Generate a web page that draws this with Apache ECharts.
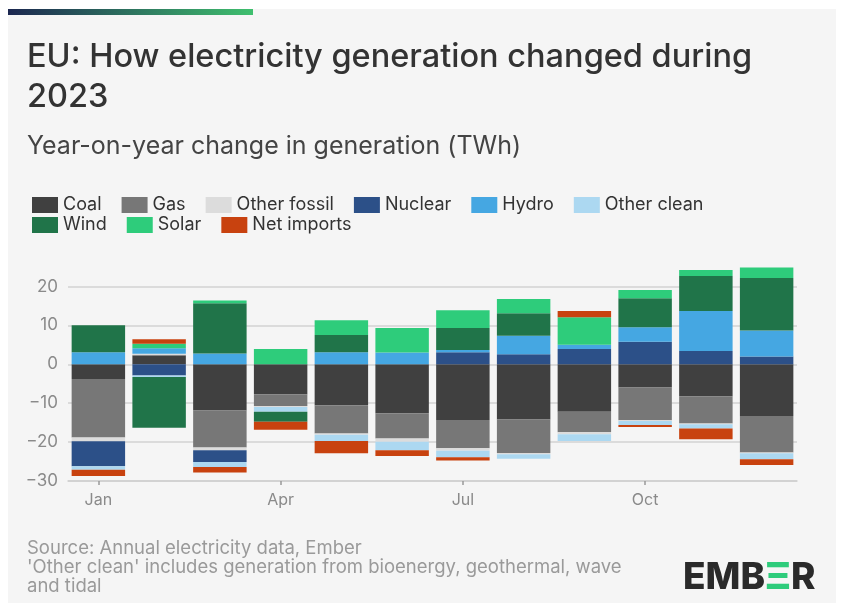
<!DOCTYPE html>
<html>
<head>
<meta charset="utf-8">
<script src="https://cdn.jsdelivr.net/npm/echarts@6/dist/echarts.min.js"></script>
<style>
html,body{margin:0;padding:0;background:#ffffff;}
#chart{width:842px;height:603px;}
</style>
</head>
<body>
<div id="chart"></div>
<script>
const months = ['Jan','Feb','Mar','Apr','May','Jun','Jul','Aug','Sep','Oct','Nov','Dec'];
const seriesNames = ['Coal','Gas','Other fossil','Nuclear','Hydro','Other clean','Wind','Solar','Net imports'];
const coal        = [-3.8, 2.3, -11.9, -7.7, -10.5, -12.6, -14.3, -14.2, -12.2, -6.0, -8.2, -13.3];
const gas         = [-15.0, 0, -9.5, -3.0, -7.3, -6.5, -7.3, -8.6, -5.3, -8.4, -7.0, -9.4];
const otherFossil = [-1.0, 0.4, -0.7, -0.3, -0.3, -0.8, -0.6, -0.3, -0.5, -0.2, -0.2, -0.2];
const nuclear     = [-6.4, -2.9, -3.0, 0, 0, 0, 3.1, 2.6, 3.9, 5.8, 3.4, 2.0];
const hydro       = [3.1, 1.4, 2.8, 0, 3.1, 3.0, 0.6, 4.7, 1.1, 3.7, 10.3, 6.7];
const otherClean  = [-0.9, -0.4, -1.3, -1.2, -1.6, -2.2, -1.7, -1.2, -1.7, -1.0, -1.1, -1.5];
const wind        = [6.9, -13.0, 12.9, -2.6, 4.4, 0, 5.6, 5.8, 0, 7.5, 9.0, 13.5];
const solar       = [0, 1.2, 0.7, 3.9, 3.8, 6.3, 4.6, 3.7, 7.1, 2.1, 1.5, 2.7];
const netImports  = [-1.6, 1.1, -1.4, -2.0, -3.2, -1.5, -0.8, 0, 1.6, -0.5, -2.8, -1.5];
const yTicks = [-30, -20, -10, 0, 10, 20];

const values = [coal, gas, otherFossil, nuclear, hydro, otherClean, wind, solar, netImports];
const colors = ['#404040','#777777','#dcdcdc','#2c5088','#45a7e2','#acd8f1','#207449','#2ecc7b','#c8420f'];

const chart = echarts.init(document.getElementById('chart'), null, {renderer:'canvas'});
const FONT = 'Inter, "Open Sans", sans-serif';

const option = {
  backgroundColor: '#ffffff',
  animation: false,
  color: colors,
  textStyle: {fontFamily: FONT},
  graphic: [
    {type:'rect', shape:{x:8, y:9, width:828, height:600}, style:{fill:'#f5f5f5'}, z:-10, silent:true},
    {type:'rect', shape:{x:8, y:9, width:245, height:6},
     style:{fill:new echarts.graphic.LinearGradient(0,0,1,0,[{offset:0,color:'#1c2750'},{offset:1,color:'#3fbf6e'}])}, z:-5},
    {type:'text', x:27, y:57, style:{text:'EU: How electricity generation changed during', font:'500 32.5px ' + FONT, fill:'#333333', verticalAlign:'middle'}},
    {type:'text', x:27, y:97, style:{text:'2023', font:'500 32.5px ' + FONT, fill:'#333333', verticalAlign:'middle'}},
    {type:'text', x:27, y:146, style:{text:'Year-on-year change in generation (TWh)', font:'400 25px ' + FONT, fill:'#444444', verticalAlign:'middle'}},
    {type:'text', x:27, y:548, style:{text:'Source: Annual electricity data, Ember', font:'400 18.5px ' + FONT, fill:'#9a9a9a', verticalAlign:'middle'}},
    {type:'text', x:27, y:567, style:{text:"'Other clean' includes generation from bioenergy, geothermal, wave", font:'400 18.5px ' + FONT, fill:'#9a9a9a', verticalAlign:'middle'}},
    {type:'text', x:27, y:586, style:{text:'and tidal', font:'400 18.5px ' + FONT, fill:'#9a9a9a', verticalAlign:'middle'}},
    {type:'text', x:683, y:578, style:{
      text:'{a|EMB}{g|Ξ}{a|R}', verticalAlign:'middle',
      rich:{
        a:{font:'800 37px ' + FONT, fill:'#2a2a2a'},
        g:{font:'800 37px ' + FONT, fill:'#2ecc7b'}
      }
    }}
  ],
  legend: [
    {
      data: seriesNames.slice(0,6),
      left: 27, top: 191,
      itemWidth: 26, itemHeight: 16, itemGap: 20,
      icon: 'rect',
      textStyle:{fontSize:18, color:'#333333', fontFamily: FONT},
      selectedMode:false
    },
    {
      data: seriesNames.slice(6),
      left: 27, top: 211,
      itemWidth: 26, itemHeight: 16, itemGap: 20,
      icon: 'rect',
      textStyle:{fontSize:18, color:'#333333', fontFamily: FONT},
      selectedMode:false
    }
  ],
  grid: {left:68, right:45, top:267, bottom:122, containLabel:false},
  xAxis: {
    type:'category',
    data: months,
    boundaryGap: true,
    axisLine:{show:true, onZero:false, lineStyle:{color:'#cfcfcf', width:1.5}},
    axisTick:{show:true, alignWithLabel:true, interval:2, length:4, lineStyle:{color:'#999999', width:1.5}},
    axisLabel:{interval:2, color:'#8a8a8a', fontSize:16, margin:11, fontFamily: FONT}
  },
  yAxis: {
    type:'value',
    min: yTicks[0], max: 25, interval: 10,
    axisLine:{show:false},
    axisTick:{show:false},
    splitLine:{show:true, lineStyle:{color:['#d2d2d2','#d2d2d2','#d2d2d2','#d2d2d2','#d2d2d2','#d2d2d2','rgba(0,0,0,0)'], width:1.5}},
    axisLabel:{
      showMaxLabel:false,
      color:'#8a8a8a', fontSize:17, margin:10, fontFamily: FONT,
      formatter: v => (yTicks.indexOf(v) >= 0 ? String(v).replace('-', '\u2212') : '')
    }
  },
  series: seriesNames.map((n, i) => ({
    name: n,
    type: 'bar',
    stack: 'total',
    barCategoryGap: '12%',
    data: values[i],
    itemStyle:{color: colors[i]},
    emphasis:{disabled:true}
  }))
};
chart.setOption(option);
</script>
</body>
</html>
